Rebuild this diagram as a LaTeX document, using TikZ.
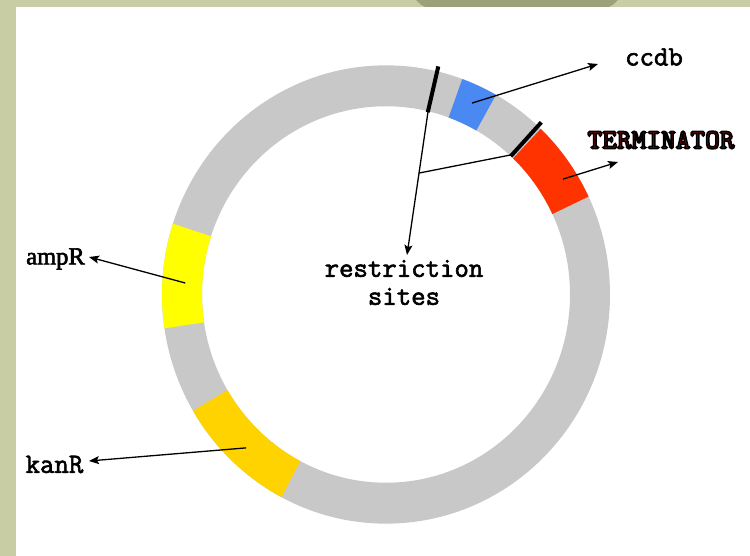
\documentclass[tikz,border=0pt]{standalone}
\usepackage{fontspec}
\setmainfont{Liberation Serif}
\usetikzlibrary{arrows.meta,calc}

\definecolor{pageGreen}{RGB}{201,205,163}
\definecolor{tabGreen}{RGB}{157,161,120}
\definecolor{ringGrey}{RGB}{200,200,200}
\definecolor{ccdbBlue}{RGB}{74,136,242}
\definecolor{termRed}{RGB}{255,51,0}
\definecolor{ampYellow}{RGB}{255,255,0}
\definecolor{kanGold}{RGB}{255,211,0}
\definecolor{termInk}{RGB}{112,8,8}

% one coloured stretch of the plasmid ring, between two angles
\newcommand\ringpart[3]{%
  \fill[#1] (#2:224pt) arc[start angle=#2, end angle=#3, radius=224pt]
    -- (#3:184pt) arc[start angle=#3, end angle=#2, radius=184pt] -- cycle;}

% text filled in the current colour and stroked in black
\newcommand\inkoutline[1]{%
  \special{pdf:literal direct 0 0 0 RG 1.5 w 2 Tr}#1\special{pdf:literal direct 0 Tr}}
% text given a slightly heavier stroke
\newcommand\heavier[1]{%
  \special{pdf:literal direct 0 0 0 RG 0.6 w 2 Tr}#1\special{pdf:literal direct 0 Tr}}

\begin{document}
\begin{tikzpicture}[x=1pt,y=1pt,
  pointer/.style={line width=1.3pt, -{Stealth[length=10pt,width=8pt,inset=2pt]}},
  plainline/.style={line width=1.3pt},
  sitemark/.style={line width=4pt},
  monolabel/.style={inner sep=0pt, font=\ttfamily\fontsize{28}{28}\selectfont},
  seriflabel/.style={inner sep=0pt, font=\fontsize{24.5}{28}\selectfont},
  termlabel/.style={inner sep=0pt, font=\ttfamily\bfseries\fontsize{28}{28}\selectfont}]

\useasboundingbox (0,0) rectangle (750,556);

% page backdrop and white panel
\fill[pageGreen] (0,0) rectangle (750,556);
\fill[tabGreen] (416,556) .. controls (424,548) .. (442,548) -- (592,548)
  .. controls (610,548) .. (618,556) -- cycle;
\fill[white] (16,0) rectangle (750,549);

% plasmid ring
\begin{scope}[shift={(386,261.5)}, yscale=1.023]
  \fill[ringGrey, even odd rule] (0,0) circle[radius=224pt] (0,0) circle[radius=184pt];
  \ringpart{ccdbBlue}{60.6}{70.1}
  \ringpart{termRed}{25.3}{46.3}
  \ringpart{ampYellow}{162}{188.5}
  \ringpart{kanGold}{210.5}{242.2}
  % restriction sites
  \draw[sitemark] (76.8:183pt) -- (76.8:229pt);
  \draw[sitemark] (47.3:184pt) -- (47.3:229pt);
  \coordinate (siteA) at (76.8:185pt);
  \coordinate (siteB) at (47.3:186pt);
  \coordinate (ccdbFrom) at (65.3:206pt);
  \coordinate (termFrom) at (32.5:210pt);
  \coordinate (ampFrom) at (176.8:201pt);
  \coordinate (kanFrom) at (227:205pt);
\end{scope}

% labels
\node[monolabel] (ccdb) at (654,499) {\heavier{ccdb}};
\node[termlabel, text=termInk] (term) at (661,416) {\inkoutline{TERMINATOR}};
\node[seriflabel] (ampR) at (55.5,297) {\heavier{ampR}};
\node[monolabel] (kanR) at (54.5,91.5) {\heavier{kanR}};
\node[monolabel, align=center] (sites) at (404,273.5) {\heavier{restriction}\\\heavier{sites}};

% arrow tips beside the labels
\coordinate (ccdbTip) at (598,492);
\coordinate (termTip) at (618,394);
\coordinate (ampTip) at (89,299);
\coordinate (kanTip) at (89,95);
\coordinate (sitesTip) at (407,301);
\coordinate (junction) at ($(siteA)!0.434!(sitesTip)$);

% connectors
\draw[pointer] (ccdbFrom) -- (ccdbTip);
\draw[pointer] (termFrom) -- (termTip);
\draw[pointer] (ampFrom) -- (ampTip);
\draw[pointer] (kanFrom) -- (kanTip);
\draw[pointer] (siteA) -- (sitesTip);
\draw[plainline] (siteB) -- (junction);
\end{tikzpicture}
\end{document}
